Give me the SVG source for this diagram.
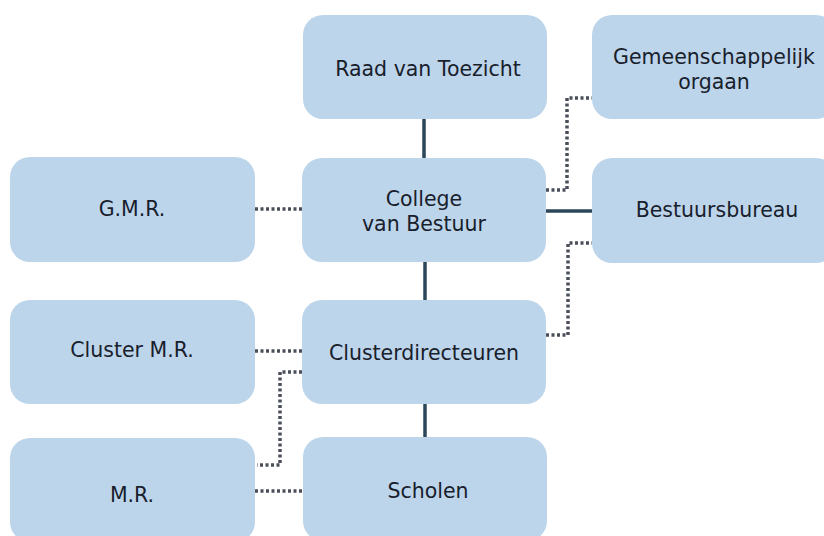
<svg xmlns="http://www.w3.org/2000/svg" width="824" height="536" viewBox="0 0 824 536">
<style>
.box{fill:#bdd5eb;}
.t{font-family:"DejaVu Sans",Verdana,sans-serif;font-size:20.5px;fill:#18202c;text-anchor:middle;}
.solid{stroke:#2b4658;stroke-width:3.5;fill:none;}
.dot{stroke:#4a4f5a;stroke-width:3.5;fill:none;stroke-dasharray:3 2.5;}
</style>
<rect width="824" height="536" fill="#ffffff"/>
<g id="connectors">
<line class="solid" x1="424" y1="119" x2="424" y2="158"/>
<line class="solid" x1="425" y1="262" x2="425" y2="300"/>
<line class="solid" x1="425" y1="404" x2="425" y2="437"/>
<line class="solid" x1="546" y1="211" x2="592" y2="211"/>
<line class="dot" x1="255" y1="209" x2="302" y2="209"/>
<line class="dot" x1="255" y1="351" x2="302" y2="351"/>
<line class="dot" x1="255" y1="491" x2="302" y2="491"/>
<polyline class="dot" points="302,372 280,372 280,465 257,465"/>
<polyline class="dot" points="546,190 567,190 567,98 592,98"/>
<polyline class="dot" points="546,335 568,335 568,243 592,243"/>
</g>
<g id="raad"><rect class="box" x="303" y="15" width="244" height="104" rx="20"/><text class="t" x="428" y="76">Raad van Toezicht</text></g>
<g id="gemeenschappelijk"><rect class="box" x="592" y="15" width="244" height="104" rx="20"/><text class="t" x="714" y="64">Gemeenschappelijk</text><text class="t" x="714" y="89">orgaan</text></g>
<g id="gmr"><rect class="box" x="10" y="157" width="245" height="105" rx="20"/><text class="t" x="132" y="216">G.M.R.</text></g>
<g id="college"><rect class="box" x="302" y="158" width="244" height="104" rx="20"/><text class="t" x="424" y="206">College</text><text class="t" x="424" y="231">van Bestuur</text></g>
<g id="bestuursbureau"><rect class="box" x="592" y="158" width="244" height="105" rx="20"/><text class="t" x="717" y="217">Bestuursbureau</text></g>
<g id="clustermr"><rect class="box" x="10" y="300" width="245" height="104" rx="20"/><text class="t" x="132" y="357">Cluster M.R.</text></g>
<g id="clusterdirecteuren"><rect class="box" x="302" y="300" width="244" height="104" rx="20"/><text class="t" x="424" y="360">Clusterdirecteuren</text></g>
<g id="mr"><rect class="box" x="10" y="438" width="245" height="104" rx="20"/><text class="t" x="132" y="502">M.R.</text></g>
<g id="scholen"><rect class="box" x="303" y="437" width="244" height="104" rx="20"/><text class="t" x="428" y="498">Scholen</text></g>
</svg>
